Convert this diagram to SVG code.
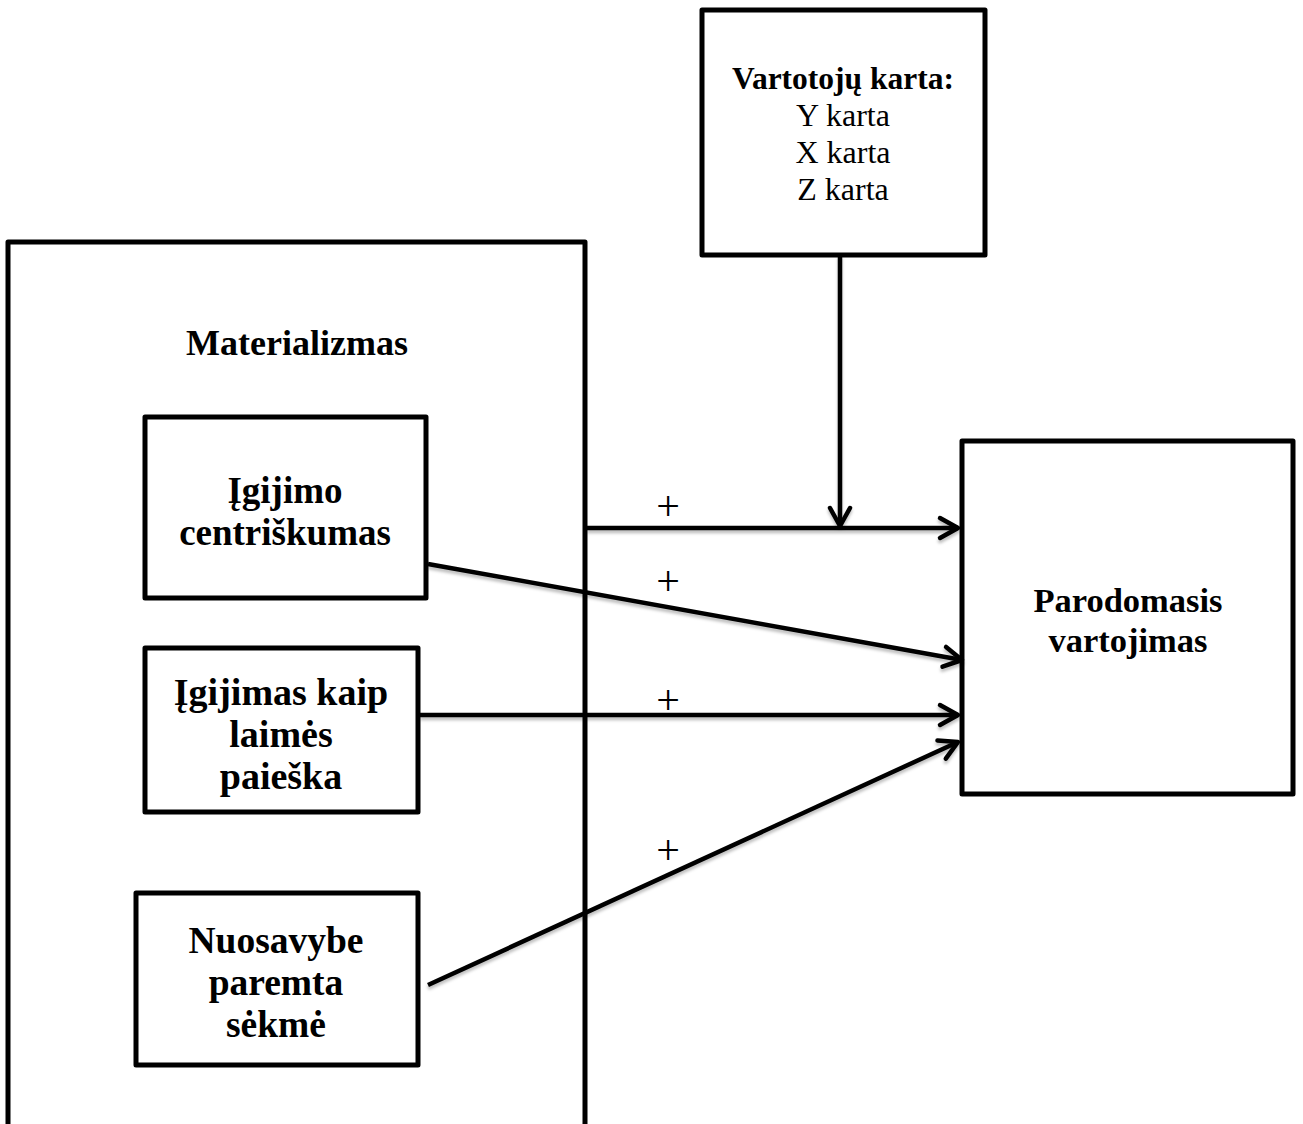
<svg xmlns="http://www.w3.org/2000/svg" width="1303" height="1124" viewBox="0 0 1303 1124">
<style>
.box{fill:#fff;stroke:#000;stroke-width:5;stroke-linejoin:round}
.b{font-family:"Liberation Serif","Times New Roman",serif;font-weight:bold;text-anchor:middle;fill:#000}
.r{font-family:"Liberation Serif","Times New Roman",serif;font-size:32px;text-anchor:middle;fill:#000}
.p{font-family:"Liberation Serif","Times New Roman",serif;font-size:42px;text-anchor:middle;fill:#000}
.c{stroke:#000;stroke-width:4.5;fill:none;marker-end:url(#ah)}
</style>
<defs>
<marker id="ah" markerUnits="userSpaceOnUse" markerWidth="30" markerHeight="30" refX="22" refY="12" orient="auto" viewBox="0 0 30 24">
<polyline points="4,2 22,12 4,22" fill="none" stroke="#000" stroke-width="4.5" stroke-linecap="round" stroke-linejoin="round"/>
</marker>
<filter id="sh" x="-5%" y="-20%" width="110%" height="140%">
<feDropShadow dx="0" dy="3" stdDeviation="1.5" flood-color="#000" flood-opacity="0.25"/>
</filter>
</defs>
<rect width="1303" height="1124" fill="#fff"/>
<g id="materializmas">
<rect class="box" x="8" y="242" width="577" height="900"/>
<text class="b" x="297" y="355" font-size="36">Materializmas</text>
</g>
<g id="vartotoju-karta">
<rect class="box" x="702" y="10" width="283" height="245"/>
<text class="b" x="843" y="89" font-size="31.5">Vartotojų karta:</text>
<text class="r" x="843" y="126">Y karta</text>
<text class="r" x="843" y="163">X karta</text>
<text class="r" x="843" y="200">Z karta</text>
</g>
<g id="igijimo-centriskumas">
<rect class="box" x="145" y="417" width="281" height="181"/>
<text class="b" x="285" y="503" font-size="37">Įgijimo</text>
<text class="b" x="285" y="545" font-size="37">centriškumas</text>
</g>
<g id="igijimas-kaip">
<rect class="box" x="145" y="648" width="273" height="164"/>
<text class="b" x="281" y="705" font-size="38">Įgijimas kaip</text>
<text class="b" x="281" y="747" font-size="38">laimės</text>
<text class="b" x="281" y="789" font-size="38">paieška</text>
</g>
<g id="nuosavybe">
<rect class="box" x="136" y="893" width="282" height="172"/>
<text class="b" x="276" y="953" font-size="37.5">Nuosavybe</text>
<text class="b" x="276" y="995" font-size="37.5">paremta</text>
<text class="b" x="276" y="1037" font-size="37.5">sėkmė</text>
</g>
<g id="parodomasis">
<rect class="box" x="962" y="441" width="331" height="353"/>
<text class="b" x="1128" y="612" font-size="34.5">Parodomasis</text>
<text class="b" x="1128" y="652" font-size="34.5">vartojimas</text>
</g>
<g id="connectors">
<g filter="url(#sh)">
<line class="c" x1="587" y1="528" x2="958" y2="528"/>
<line class="c" x1="840" y1="255" x2="840" y2="526"/>
<line class="c" x1="428" y1="564" x2="962" y2="660"/>
<line class="c" x1="420" y1="715" x2="958" y2="715"/>
<line class="c" x1="428" y1="985" x2="958" y2="742"/>
</g>
<text class="p" x="668" y="520">+</text>
<text class="p" x="668" y="595">+</text>
<text class="p" x="668" y="714">+</text>
<text class="p" x="668" y="864">+</text>
</g>
</svg>
